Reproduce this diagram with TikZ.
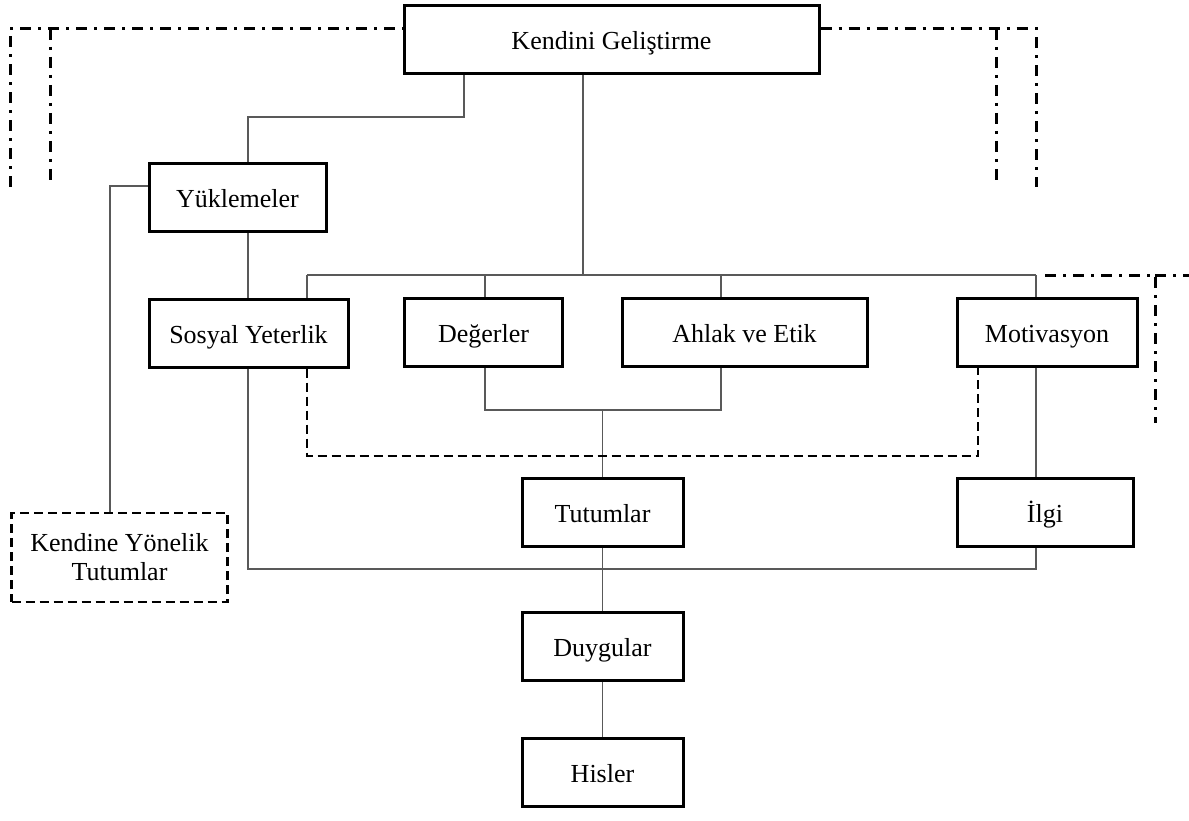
\documentclass[tikz,border=0pt]{standalone}
\usepackage{fontspec}
\setmainfont{Liberation Serif}
\begin{document}
\begin{tikzpicture}[x=1pt,y=-1pt,
  box/.style={draw=black,line width=3pt,fill=white,inner sep=0pt,
    minimum height=68pt,text height=23pt,text depth=3pt,
    font=\fontsize{26}{29}\selectfont},
  dbox/.style={box,dash pattern=on 9pt off 5pt,line width=2.8pt,text height=,text depth=},
  conn/.style={draw=black!65,line width=1.2pt},
  dconn/.style={draw=black,line width=2.8pt,dash pattern=on 9pt off 5pt},
  ddconn/.style={draw=black,line width=3pt,dash pattern=on 11pt off 7pt on 3pt off 7pt}]
\useasboundingbox (0,0) rectangle (1189,821);

% boxes
\node[box,minimum width=415pt] (kg)  at (611.5,39.5) {Kendini Geliştirme};
\node[box,minimum width=177pt] (yuk) at (237.5,198) {Yüklemeler};
\node[box,minimum width=199pt] (sy)  at (248.5,333) {Sosyal Yeterlik};
\node[box,minimum width=158pt] (deg) at (483.5,332) {Değerler};
\node[box,minimum width=245pt] (ahl) at (744.5,332.5) {Ahlak ve Etik};
\node[box,minimum width=180pt] (mot) at (1047,332) {Motivasyon};
\node[box,minimum width=161pt] (tut) at (602.5,512.5) {Tutumlar};
\node[box,minimum width=176pt] (ilgi) at (1045,512) {İlgi};
\node[box,minimum width=161pt] (duy) at (602.5,646.5) {Duygular};
\node[box,minimum width=161pt] (his) at (602.5,772) {Hisler};
\node[dbox,minimum width=216pt,minimum height=89pt,align=center] (kyt) at (119.5,557.5)
  {Kendine Yönelik\\Tutumlar};

% junction points
\coordinate (a1) at (464,117);
\coordinate (a2) at (248,117);
\coordinate (bus) at (583,275);
\coordinate (b1) at (307,275);
\coordinate (b2) at (485,275);
\coordinate (b3) at (721,275);
\coordinate (b4) at (1036,275);
\coordinate (c1) at (485,410);
\coordinate (c2) at (721,410);
\coordinate (c0) at (602.5,410);
\coordinate (k1) at (110,186);
\coordinate (e1) at (248,569);
\coordinate (e2) at (1036,569);
\coordinate (d1) at (307,456);
\coordinate (d2) at (978,456);

% solid connectors
\draw[conn] (kg.south -| a1) -- (a1) -- (a2) -- (yuk.north -| a2);
\draw[conn] (yuk.south -| a2) -- (sy.north -| a2);
\draw[conn] (kg.south -| bus) -- (bus);
\draw[conn] (b1) -- (b4);
\draw[conn] (b1) -- (sy.north -| b1);
\draw[conn] (b2) -- (deg.north -| b2);
\draw[conn] (b3) -- (ahl.north -| b3);
\draw[conn] (b4) -- (mot.north -| b4);
\draw[conn] (deg.south -| c1) -- (c1) -- (c2) -- (ahl.south -| c2);
\draw[conn] (c0) -- (tut.north);
\draw[conn] (yuk.west |- k1) -- (k1) -- (kyt.north -| k1);
\draw[conn] (sy.south -| e1) -- (e1) -- (e2) -- (ilgi.south -| e2);
\draw[conn] (mot.south -| e2) -- (ilgi.north -| e2);
\draw[conn] (tut.south) -- (duy.north);
\draw[conn] (duy.south) -- (his.north);

% dashed connector
\draw[dconn] (sy.south -| d1) -- (d1) -- (d2) -- (mot.south -| d2);

% dash-dot frames
\coordinate (t0) at (0,29);
\draw[ddconn] (10,187) -- (10,29) -- (kg.west |- t0);
\draw[ddconn] (50,29) -- (50,187);
\draw[ddconn] (kg.east |- t0) -- (1036,29) -- (1036,187);
\draw[ddconn] (996,29) -- (996,187);
\draw[ddconn] (1045,275) -- (1155,275) -- (1155,423);
\draw[ddconn] (1155,275) -- (1189,275);
\end{tikzpicture}
\end{document}
